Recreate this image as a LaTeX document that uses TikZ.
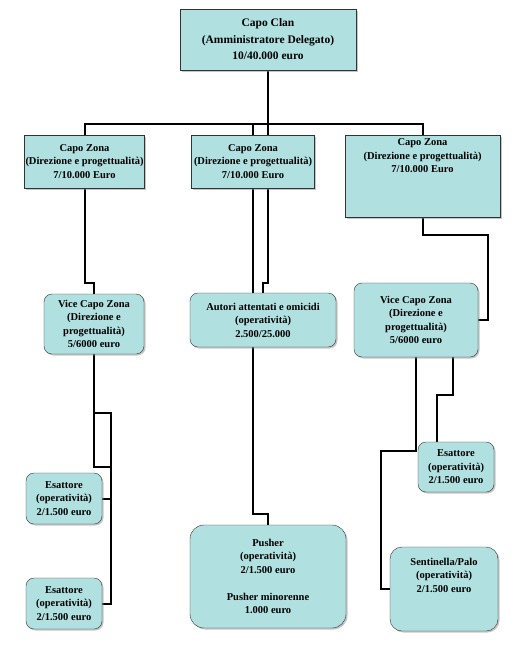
\documentclass[tikz,border=0pt]{standalone}
\usepackage{fontspec}
\setmainfont{Liberation Serif}
\usetikzlibrary{shadows,backgrounds}
\definecolor{boxfill}{RGB}{176,224,224}

\begin{document}
\begin{tikzpicture}[x=1pt,y=-1pt]
        \useasboundingbox (0,0) rectangle (522,659);
        \begin{scope}[every node/.style={draw=black!80, fill=boxfill, align=center, inner sep=1pt,
                        drop shadow={shadow xshift=1.5pt, shadow yshift=-1.5pt, fill=black!45},
                        font=\bfseries\fontsize{10.5}{13.5}\selectfont}]
                \node [minimum width=176pt, minimum height=61pt, font=\bfseries\fontsize{11.5}{16.5}\selectfont] (clan) at (268,39.5) {Capo Clan\\(Amministratore Delegato)\\10/40.000 euro};
                \node [minimum width=119pt, minimum height=53pt] (zona1) at (84.5,161.5) {Capo Zona\\(Direzione e progettualità)\\7/10.000 Euro};
                \node [minimum width=123pt, minimum height=53pt] (zona2) at (253,161.5) {Capo Zona\\(Direzione e progettualità)\\7/10.000 Euro};
                \node [minimum width=155pt, minimum height=82pt] (zona3) at (422.5,176) {\parbox[c][78pt][t]{150pt}{\centering\vspace*{2pt}Capo Zona\\(Direzione e progettualità)\\7/10.000 Euro}};
        \end{scope}
        \begin{scope}[every node/.style={draw=black!80, fill=boxfill, align=center, inner sep=1pt, rounded corners=8pt,
                        drop shadow={shadow xshift=1.5pt, shadow yshift=-1.5pt, fill=black!45},
                        font=\bfseries\fontsize{10.5}{13.5}\selectfont}]
                \node [minimum width=100pt, minimum height=60pt] (vice1) at (94,324) {Vice Capo Zona\\(Direzione e\\progettualità)\\5/6000 euro};
                \node [minimum width=146pt, minimum height=54pt] (autori) at (263,320) {Autori attentati e omicidi\\(operatività)\\2.500/25.000};
                \node [minimum width=124pt, minimum height=74pt] (vice2) at (416,320) {Vice Capo Zona\\(Direzione e\\progettualità)\\5/6000 euro};
                \node [minimum width=76pt, minimum height=51pt] (esa1) at (64,498.5) {Esattore\\(operatività)\\2/1.500 euro};
                \node [minimum width=76pt, minimum height=51pt] (esa2) at (64,603.5) {Esattore\\(operatività)\\2/1.500 euro};
                \node [minimum width=76pt, minimum height=50pt] (esa3) at (456,467) {Esattore\\(operatività)\\2/1.500 euro};
                \node [minimum width=156pt, minimum height=103pt, rounded corners=14pt] (pusher) at (268,576.5) {Pusher\\(operatività)\\2/1.500 euro\\[13.5pt]Pusher minorenne\\1.000 euro};
                \node [minimum width=108pt, minimum height=84pt, rounded corners=12pt] (senti) at (444,589) {\parbox[c][80pt][t]{104pt}{\centering\vspace*{9pt}Sentinella/Palo\\(operatività)\\2/1.500 euro}};
        \end{scope}
        \coordinate (bar) at (0,124);
        \coordinate (jog) at (0,283);
        \coordinate (pjog) at (0,514);
        \coordinate (lspine) at (111,413);
        \coordinate (rjog) at (488,235);
        \coordinate (sjog) at (381,451);
        \coordinate (ejog) at (437,395);
        \begin{scope}[on background layer, every path/.style={draw=black, line width=2pt}]
                % capi zona
                \path (zona1.north) -- (zona1.north |- bar) -- (zona3.north |- bar) -- (zona3.north);
                \path (clan.south) -- (clan.south |- zona2.north);
                \path (zona2.north) -- (zona2.north |- bar);
                % colonna centrale
                \path (clan.south |- zona2.south) -- (clan.south |- jog) -| (autori.north);
                \path (zona2.south) -- (zona2.south |- pjog) -| (pusher.north);
                % colonna sinistra
                \path (zona1.south) -- (zona1.south |- jog) -| (vice1.north);
                \path (vice1.south) -- (vice1.south |- 0,467) -- (lspine |- 0,467);
                \path (vice1.south |- lspine) -- (lspine) -- (lspine |- esa2.east) -- (esa2.east);
                \path (esa1.east) -- (lspine |- esa1.east);
                % colonna destra
                \path (zona3.south) |- (rjog) |- (vice2.east);
                \path (vice2.south) |- (sjog) |- (senti.west);
                \path ([xshift=37pt]vice2.south) |- (ejog) -- (ejog |- esa3.north);
        \end{scope}
\end{tikzpicture}
\end{document}
